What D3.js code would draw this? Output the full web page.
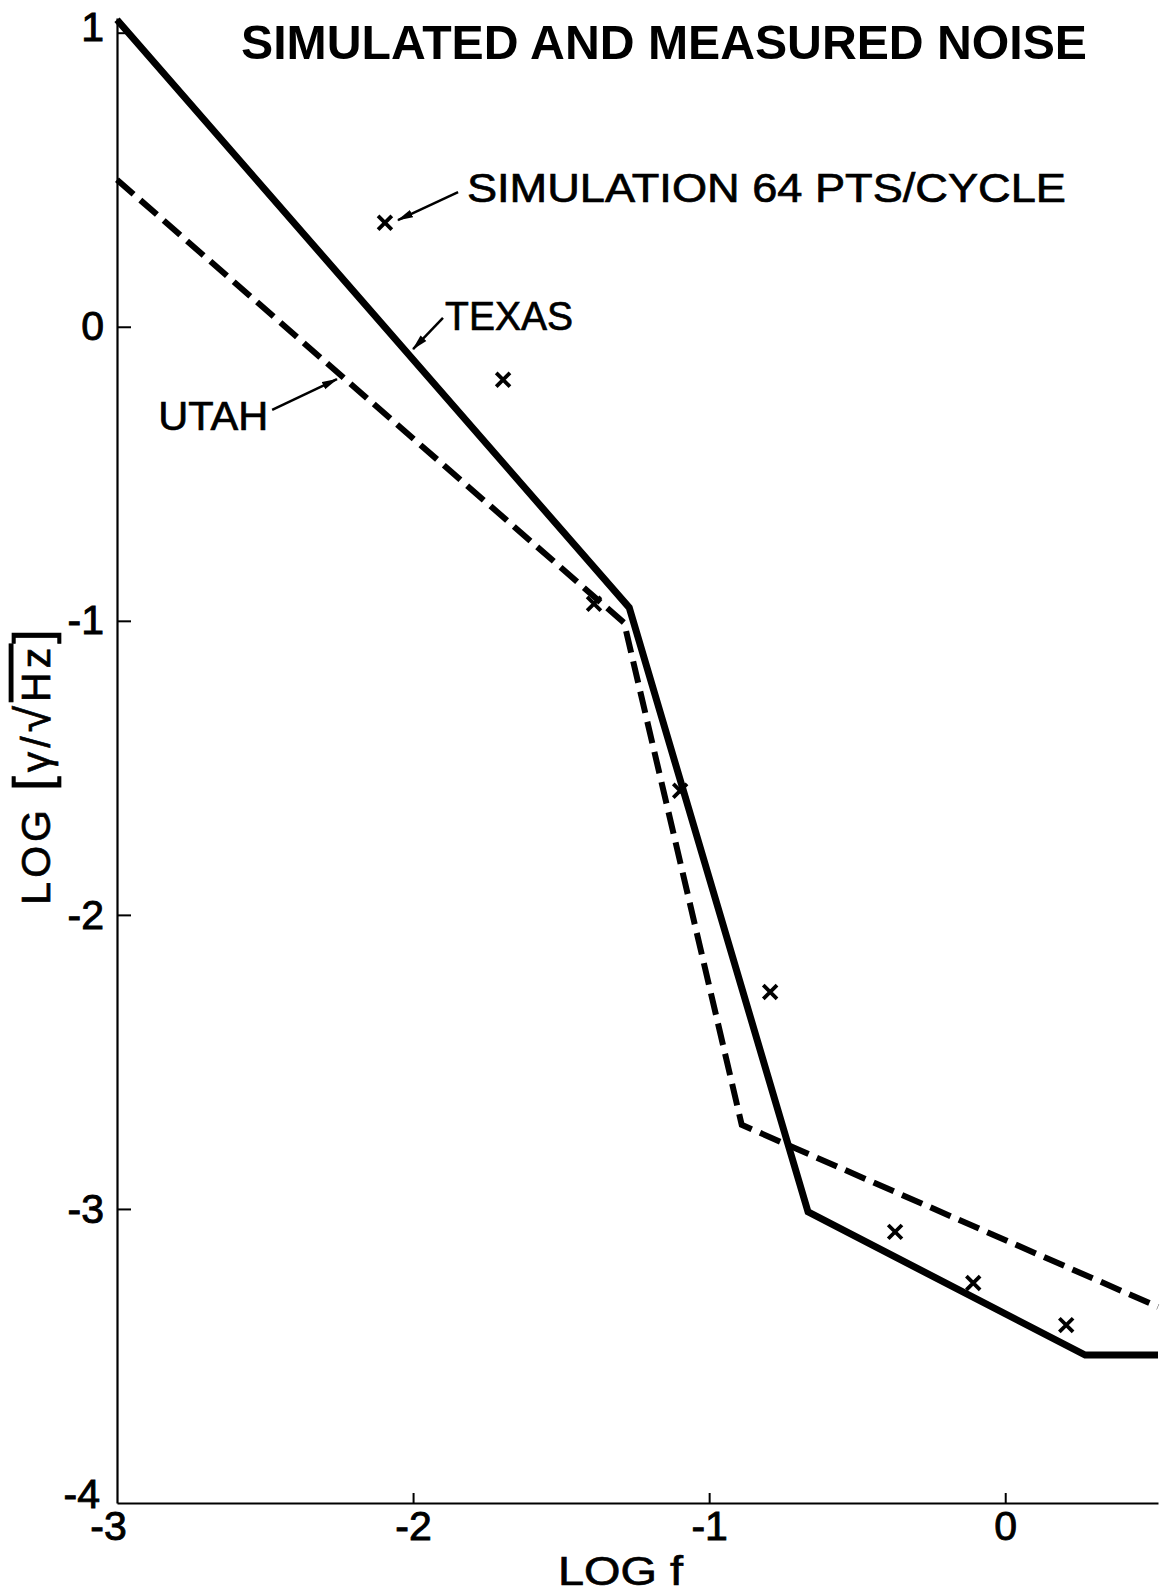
<!DOCTYPE html>
<html>
<head>
<meta charset="utf-8">
<script src="https://cdn.jsdelivr.net/npm/d3@7"></script>
<style>
  body { margin: 0; background: #fff; }
  svg { display: block; font-family: "Liberation Sans", Arial, sans-serif; }
</style>
</head>
<body>
<svg width="1165" height="1596"></svg>
<script>
// values: log f  vs  log noise
var texasX = [-3, -1.27, -0.666, 0.27, 0.516];
var texasY = [1.044, -0.955, -3.01, -3.497, -3.497];
var utahX = [-3, -1.287, -0.89, 0.516];
var utahY = [0.5, -1.007, -2.714, -3.333];
var simX = [-2.095, -1.696, -1.389, -1.098, -0.794, -0.372, -0.108, 0.206];
var simY = [0.354, -0.18, -0.942, -1.578, -2.262, -3.078, -3.252, -3.395];
var xTicks = [-3, -2, -1, 0];
var yTicks = [1, 0, -1, -2, -3, -4];

// callouts, placed in data units
var notes = [
  {text: "SIMULATION 64 PTS/CYCLE", tx: -1.818, ty: 0.424, len: 599, from: [-1.848, 0.458], to: [-2.051, 0.363]},
  {text: "TEXAS", tx: -1.892, ty: -0.011, len: 128, from: [-1.899, 0.030], to: [-2.0, -0.076]},
  {text: "UTAH", tx: -2.861, ty: -0.351, len: 110, from: [-2.476, -0.283], to: [-2.257, -0.178]}
];

var svg = d3.select("svg");

var x = d3.scaleLinear().domain([-3, 0.516]).range([117, 1158]);
var y = d3.scaleLinear().domain([-4, 1.05]).range([1503, 18]);

svg.append("defs").append("marker")
    .attr("id", "head")
    .attr("viewBox", "0 -5 16 10")
    .attr("refX", 15).attr("refY", 0)
    .attr("markerWidth", 16).attr("markerHeight", 10)
    .attr("markerUnits", "userSpaceOnUse")
    .attr("orient", "auto")
  .append("path")
    .attr("d", "M0,-4L16,0L0,4Z")
    .attr("fill", "#000");

// axes
var xAxis = svg.append("g")
    .attr("transform", "translate(0," + y(-4) + ")")
    .call(d3.axisBottom(x).tickValues(xTicks).tickFormat(function(d) { return String(d); })
      .tickSizeInner(-10).tickSizeOuter(0).tickPadding(8));
var yAxis = svg.append("g")
    .attr("transform", "translate(" + x(-3) + ",0)")
    .call(d3.axisLeft(y).tickValues(yTicks).tickFormat(function(d) { return String(d); })
      .tickSizeInner(-14).tickSizeOuter(0).tickPadding(13));

[xAxis, yAxis].forEach(function(g) {
  g.attr("font-family", null).attr("font-size", 41);
  g.select(".domain").attr("stroke", "#000").attr("stroke-width", 2.2);
  g.selectAll(".tick line").attr("stroke", "#000").attr("stroke-width", 2);
  g.selectAll(".tick text").attr("fill", "#000").attr("stroke", "#000").attr("stroke-width", 0.9);
});
xAxis.selectAll(".tick text").filter(function(d) { return d === -3; }).attr("dx", -9);
xAxis.selectAll(".tick line").filter(function(d) { return d === -3; }).remove();
yAxis.selectAll(".tick line").filter(function(d) { return d === -4; }).remove();
yAxis.selectAll(".tick text").filter(function(d) { return d === -4; }).attr("y", -9).attr("dx", -4);
yAxis.selectAll(".tick text").filter(function(d) { return d === 1; }).attr("y", -5);

var line = d3.line()
    .x(function(d) { return x(d[0]); })
    .y(function(d) { return y(d[1]); });

svg.append("path")
    .datum(d3.zip(utahX, utahY))
    .attr("d", line)
    .attr("fill", "none")
    .attr("stroke", "#000")
    .attr("stroke-width", 6)
    .attr("stroke-dasharray", "22,9");

svg.append("path")
    .datum(d3.zip(texasX, texasY))
    .attr("d", line)
    .attr("fill", "none")
    .attr("stroke", "#000")
    .attr("stroke-width", 7);

svg.append("g")
  .selectAll("path")
  .data(d3.zip(simX, simY))
  .enter().append("path")
    .attr("d", d3.symbol().type(d3.symbolX).size(125))
    .attr("transform", function(d) { return "translate(" + x(d[0]) + "," + y(d[1]) + ")"; })
    .attr("fill", "none")
    .attr("stroke", "#000")
    .attr("stroke-width", 3.8);

// callouts
var note = svg.append("g").selectAll("g").data(notes).enter().append("g");
note.append("line")
    .attr("x1", function(d) { return x(d.from[0]); })
    .attr("y1", function(d) { return y(d.from[1]); })
    .attr("x2", function(d) { return x(d.to[0]); })
    .attr("y2", function(d) { return y(d.to[1]); })
    .attr("stroke", "#000")
    .attr("stroke-width", 2.5)
    .attr("marker-end", "url(#head)");
note.append("text")
    .attr("x", function(d) { return x(d.tx); })
    .attr("y", function(d) { return y(d.ty); })
    .attr("font-size", 41)
    .attr("stroke", "#000")
    .attr("stroke-width", 0.7)
    .attr("textLength", function(d) { return d.len; })
    .attr("lengthAdjust", "spacingAndGlyphs")
    .text(function(d) { return d.text; });

// title
svg.append("text")
    .attr("x", 241).attr("y", 59)
    .attr("font-size", 48)
    .attr("font-weight", "bold")
    .attr("textLength", 846)
    .attr("lengthAdjust", "spacingAndGlyphs")
    .text("SIMULATED AND MEASURED NOISE");

// axis titles
svg.append("text")
    .attr("x", 558).attr("y", 1585)
    .attr("font-size", 41)
    .attr("stroke", "#000")
    .attr("stroke-width", 0.7)
    .attr("textLength", 125)
    .attr("lengthAdjust", "spacingAndGlyphs")
    .text("LOG f");

var yl = svg.append("text")
    .attr("transform", "translate(50,765) rotate(-90)")
    .attr("text-anchor", "middle")
    .attr("font-size", 41)
    .attr("stroke", "#000")
    .attr("stroke-width", 0.7)
    .attr("letter-spacing", 4);
yl.append("tspan").text("LOG ");
yl.append("tspan").attr("font-size", 52).text("[");
yl.append("tspan").text("γ/");
yl.append("tspan").attr("font-size", 48).text("√");
yl.append("tspan").attr("text-decoration", "overline").text("Hz");
yl.append("tspan").attr("font-size", 52).text("]");
</script>
</body>
</html>
